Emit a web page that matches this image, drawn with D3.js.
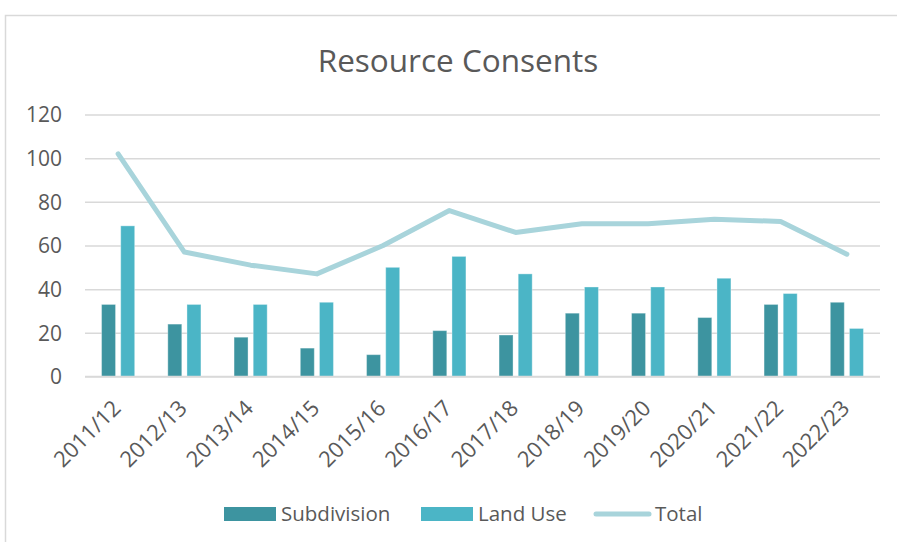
<!DOCTYPE html>
<html>
<head>
<meta charset="utf-8">
<script src="https://cdn.jsdelivr.net/npm/d3@7"></script>
<style>
  html, body { margin: 0; padding: 0; background: #ffffff; }
  svg { display: block; }
  text { font-family: "Open Sans", "Noto Sans", sans-serif; fill: #595959; }
</style>
</head>
<body>
<svg id="chart" width="897" height="542"></svg>
<script>
const categories = ["2011/12","2012/13","2013/14","2014/15","2015/16","2016/17","2017/18","2018/19","2019/20","2020/21","2021/22","2022/23"];
const subdivision = [33, 24, 18, 13, 10, 21, 19, 29, 29, 27, 33, 34];
const landUse = [69, 33, 33, 34, 50, 55, 47, 41, 41, 45, 38, 22];
const total = [102, 57, 51, 47, 60, 76, 66, 70, 70, 72, 71, 56];
const yTicks = [0, 20, 40, 60, 80, 100, 120];
const seriesNames = ["Subdivision", "Land Use"];
const colors = { "Subdivision": "#3D94A0", "Land Use": "#4BB5C6", "Total": "#A8D4DB" };

const svg = d3.select("#chart");

// chart border
svg.append("rect").attr("x", 5.5).attr("y", 15.5).attr("width", 1000).attr("height", 1000)
  .attr("fill", "#ffffff").attr("stroke", "#D9D9D9").attr("stroke-width", 1.5);

const plot = { left: 85, right: 880, top: 114.5, bottom: 376.5 };

const x = d3.scaleBand().domain(categories).range([plot.left, plot.right]).paddingInner(0).paddingOuter(0);
const groupW = x.bandwidth() * 0.5;
const xInner = d3.scaleBand().domain(seriesNames).range([0, groupW]).paddingInner(0.27);
const y = d3.scaleLinear().domain([0, 120]).range([plot.bottom, plot.top]);

// title
svg.append("text").attr("x", 458).attr("y", 72).attr("text-anchor", "middle")
  .style("font-size", "31.5px").text("Resource Consents");

// gridlines + y labels
const yAxis = d3.axisLeft(y).tickValues(yTicks).tickSize(-(plot.right - plot.left)).tickPadding(23);
const gy = svg.append("g").attr("transform", `translate(${plot.left},0)`).call(yAxis);
gy.select(".domain").remove();
gy.selectAll(".tick line").attr("stroke", "#D9D9D9").attr("stroke-width", 1.5);
gy.selectAll(".tick text").style("font-size", "21px").attr("fill", "#595959").attr("dy", "0.35em");

// bars
const rows = categories.map((c, i) => ({ cat: c, vals: [
  { key: "Subdivision", v: subdivision[i] }, { key: "Land Use", v: landUse[i] } ] }));
const groups = svg.append("g").selectAll("g").data(rows).join("g")
  .attr("transform", d => `translate(${x(d.cat) + (x.bandwidth() - groupW) / 2},0)`);
groups.selectAll("rect").data(d => d.vals).join("rect")
  .attr("x", d => xInner(d.key))
  .attr("width", xInner.bandwidth())
  .attr("y", d => y(d.v))
  .attr("height", d => y(0) - y(d.v))
  .attr("fill", d => colors[d.key])
  .attr("stroke", "#ffffff").attr("stroke-opacity", 0.35).attr("stroke-width", 1);

// baseline
svg.append("line").attr("x1", plot.left).attr("x2", plot.right).attr("y1", y(0)).attr("y2", y(0))
  .attr("stroke", "#D9D9D9").attr("stroke-width", 1.5);

// total line
const line = d3.line().x((d, i) => x(categories[i]) + x.bandwidth() / 2).y(d => y(d));
svg.append("path").datum(total).attr("d", line).attr("fill", "none")
  .attr("stroke", colors.Total).attr("stroke-width", 5)
  .attr("stroke-linecap", "round").attr("stroke-linejoin", "round");

// x axis labels
const xAxis = d3.axisBottom(x).tickSize(0).tickPadding(0);
const gx = svg.append("g").attr("transform", `translate(0,${plot.bottom})`).call(xAxis);
gx.select(".domain").remove();
gx.selectAll(".tick text")
  .style("font-size", "22px").attr("fill", "#595959")
  .attr("text-anchor", "end")
  .attr("dy", null).attr("y", 0).attr("x", 0)
  .attr("transform", "translate(4,33) rotate(-45)");

// legend
const legend = svg.append("g");
const legItems = [
  { name: "Subdivision", type: "rect", x: 224, tx: 281 },
  { name: "Land Use", type: "rect", x: 421, tx: 478 },
  { name: "Total", type: "line", x: 594, tx: 655 }
];
legItems.forEach(it => {
  if (it.type === "rect") {
    legend.append("rect").attr("x", it.x).attr("y", 507).attr("width", 52).attr("height", 14)
      .attr("fill", colors[it.name]);
  } else {
    legend.append("line").attr("x1", it.x + 2).attr("x2", it.x + 55).attr("y1", 514).attr("y2", 514)
      .attr("stroke", colors.Total).attr("stroke-width", 5).attr("stroke-linecap", "round");
  }
  legend.append("text").attr("x", it.tx).attr("y", 514).attr("dy", "0.35em")
    .style("font-size", "20.5px").text(it.name);
});
</script>
</body>
</html>
